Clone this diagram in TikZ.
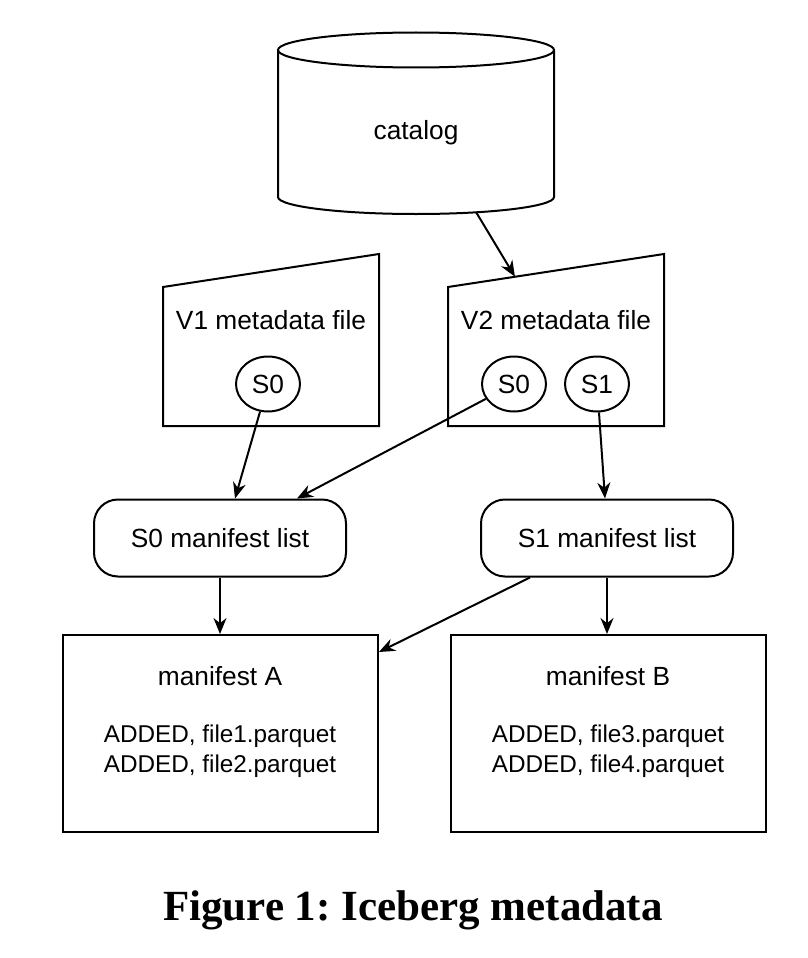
\documentclass[tikz,border=0pt]{standalone}
\usepackage{fontspec}
\setmainfont{Liberation Sans}
\newfontfamily\capfont{Liberation Serif}
\usetikzlibrary{arrows.meta,calc,shapes.geometric}
\frenchspacing

\tikzset{
  meta/.style={minimum width=214pt, minimum height=170pt, inner sep=0pt},
  snap/.style={draw, ellipse, minimum width=64pt, minimum height=55pt, inner sep=0pt},
  mlist/.style={draw, rounded corners=24pt, minimum width=252pt, minimum height=77pt},
  mbox/.style={draw, minimum width=315pt, minimum height=197pt},
  files/.style={align=center, font=\fontsize{24.3}{30}\selectfont},
}

\begin{document}
\begin{tikzpicture}[x=1pt, y=-1pt, line width=2pt,
    >={Stealth[length=16pt,width=13pt]},
    every node/.style={font=\fontsize{26.3}{30}\selectfont}]
  \useasboundingbox (0,0) rectangle (808,958);

  % catalog
  \draw (278,50) -- (278,197) arc[start angle=180, end angle=360, x radius=138pt, y radius=17pt] -- (554,50);
  \draw (416,50) ellipse [x radius=138pt, y radius=17.5pt];
  \node (catalog) at (416,133) {catalog};
  \coordinate (catbot) at (476,212);

  % metadata files
  \node[meta] (v1) at (271,340) {};
  \node[meta] (v2) at (556,340) {};
  \foreach \m in {v1,v2} {
    \coordinate (\m tl) at ($(\m.north west)+(0,33)$);
    \draw (\m.south west) -- (\m tl) -- (\m.north east) -- (\m.south east) -- cycle;
  }
  \node (v1text) at (271,320) {V1 metadata file};
  \node (v2text) at (556,320) {V2 metadata file};
  \node[snap] (v1s0) at (268,384) {S0};
  \node[snap] (v2s0) at (514,384) {S0};
  \node[snap] (v2s1) at (597,384) {S1};

  % manifest lists
  \node[mlist] (ml0) at (220,538) {S0 manifest list};
  \node[mlist] (ml1) at (607,538) {S1 manifest list};

  % manifests
  \node[mbox] (ma) at (220.5,733.5) {};
  \node[mbox] (mb) at (608,733.5) {};
  \node (matitle) at (220,676) {manifest A};
  \node (mbtitle) at (608,676) {manifest B};
  \node[files] (mafiles) at (220,751) {ADDED, file1.parquet\\ADDED, file2.parquet};
  \node[files] (mbfiles) at (608,751) {ADDED, file3.parquet\\ADDED, file4.parquet};

  % arrows
  \draw[->] (catbot) -- ($(v2tl)!0.31!(v2.north east)$);
  \draw[->] (v1s0) -- ($(ml0.north)+(15,0)$);
  \draw[->] (v2s0) -- ($(ml0.north)+(77,0)$);
  \draw[->] (v2s1) -- ($(ml1.north)+(-2,0)$);
  \draw[->] (ml0.south) -- (ml0.south |- ma.north);
  \draw[->] ($(ml1.south)+(-77,0)$) -- ($(ma.north east)+(0,18)$);
  \draw[->] (ml1.south) -- (ml1.south |- mb.north);

  \node[font=\capfont\bfseries\fontsize{43}{50}\selectfont] (caption) at (413,910) {Figure 1: Iceberg metadata};
\end{tikzpicture}
\end{document}
